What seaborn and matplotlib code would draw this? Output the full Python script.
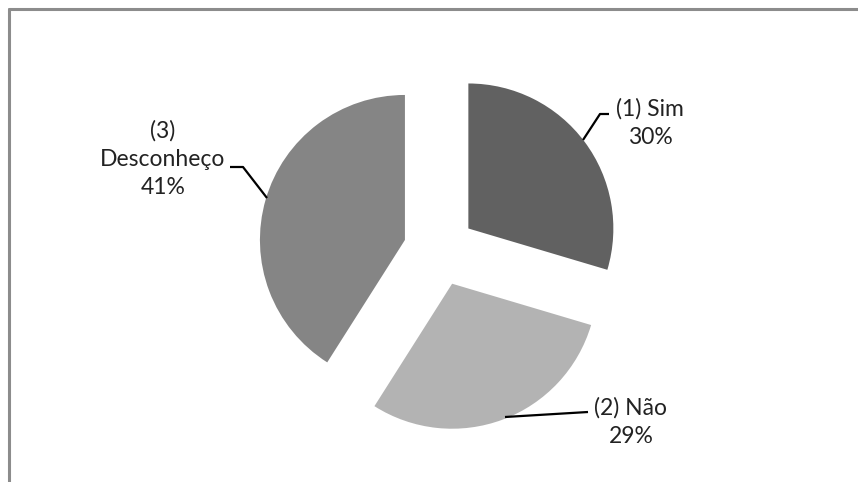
import matplotlib
matplotlib.use("Agg")
import matplotlib.pyplot as plt
import seaborn as sns
from matplotlib.lines import Line2D

categories = ["(1) Sim", "(2) Não", "(3) Desconheço"]
values = [29.6, 29.4, 41.0]
pct_labels = ["30%", "29%", "41%"]
colors = ["#616161", "#b3b3b3", "#858585"]

sns.set_style("white")
plt.rcParams['font.family'] = ['Lato', 'DejaVu Sans']

W, H = 858, 482
fig = plt.figure(figsize=(W / 100, H / 100), dpi=100)
ax = fig.add_axes([0, 0, 1, 1])
ax.set_xlim(0, W)
ax.set_ylim(0, H)
ax.axis("off")

cx, cy = 439.5, H - 250
wedges, _ = ax.pie(values, colors=colors, startangle=90, counterclock=False,
                   radius=145, center=(cx, cy), explode=[36] * 3,
                   wedgeprops=dict(linewidth=0), frame=False)
ax.set_xlim(0, W)
ax.set_ylim(0, H)
ax.set_aspect("equal")

def Y(y):
    return H - y

fs = 16.5
tc = "#222222"
ls = 1.42
ax.text(650, Y(123), categories[0] + "\n" + pct_labels[0], ha="center", va="center",
        fontsize=fs, color=tc, linespacing=ls)
ax.text(631, Y(422), categories[1] + "\n" + pct_labels[1], ha="center", va="center",
        fontsize=fs, color=tc, linespacing=ls)
ax.text(163, Y(159), "(3)\nDesconheço\n" + pct_labels[2], ha="center", va="center",
        fontsize=fs, color=tc, linespacing=ls)

# leader lines
lk = dict(color="black", linewidth=1.6, solid_capstyle="butt")
ax.plot([583, 600, 609], [Y(140), Y(114), Y(114)], **lk)
ax.plot([505, 588], [Y(417), Y(412)], **lk)
ax.plot([230, 243, 267], [Y(167), Y(167), Y(198)], **lk)

# frame (top and left only)
fig.add_artist(Line2D([8.5 / W, 1], [1 - 9 / H, 1 - 9 / H], transform=fig.transFigure,
                      color="#8c8c8c", linewidth=2.2))
fig.add_artist(Line2D([8.5 / W, 8.5 / W], [0, 1 - 9 / H], transform=fig.transFigure,
                      color="#8c8c8c", linewidth=2.2))

fig.savefig("out.png", dpi=100, facecolor="white")
